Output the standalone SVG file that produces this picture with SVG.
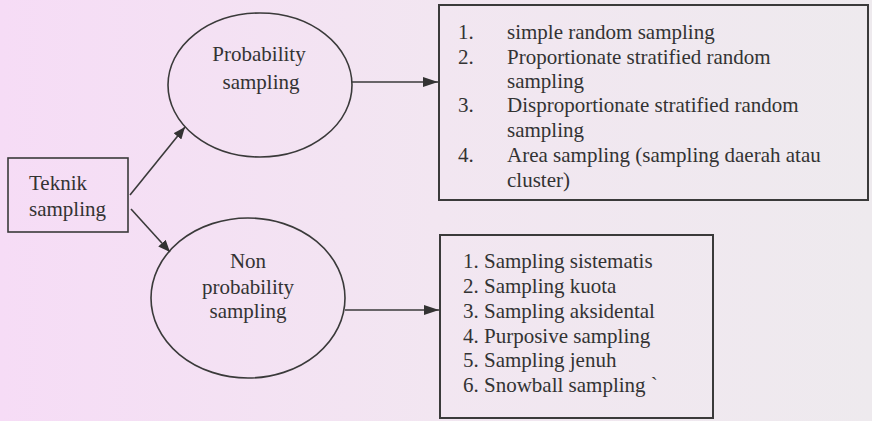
<svg xmlns="http://www.w3.org/2000/svg" width="872" height="421" viewBox="0 0 872 421">
<defs>
<linearGradient id="bg" x1="0" y1="0" x2="1" y2="0">
<stop offset="0" stop-color="#f6dcf6"/>
<stop offset="0.5" stop-color="#f2e6f1"/>
<stop offset="1" stop-color="#eeeaee"/>
</linearGradient>
<marker id="arr" viewBox="0 0 12 10" refX="12" refY="5" markerWidth="12" markerHeight="10" markerUnits="userSpaceOnUse" orient="auto">
<path d="M0,0 L12,5 L0,10 z" fill="#333"/>
</marker>
<marker id="arrL" viewBox="0 0 15 10" refX="15" refY="5" markerWidth="15" markerHeight="10" markerUnits="userSpaceOnUse" orient="auto">
<path d="M0,0 L15,5 L0,10 z" fill="#333"/>
</marker>
</defs>
<style>
.shape{fill:none;stroke:#3a3a3a;stroke-width:1.6}
.box{fill:none;stroke:#3a3a3a;stroke-width:2}
.t{font-family:"Liberation Serif","Times New Roman",serif;font-size:21px;fill:#333}
.c{text-anchor:middle}
.conn{stroke:#3a3a3a;stroke-width:1.6;fill:none}
</style>
<rect width="872" height="421" fill="url(#bg)"/>
<g id="teknik">
<rect class="shape" x="8" y="158" width="120" height="74"/>
<text class="t" x="29" y="190">Teknik</text>
<text class="t" x="29" y="216">sampling</text>
</g>
<g id="probability">
<ellipse class="shape" cx="260" cy="85" rx="92" ry="72"/>
<text class="t c" x="259" y="61">Probability</text>
<text class="t c" x="261" y="89">sampling</text>
</g>
<g id="nonprobability">
<ellipse class="shape" cx="248" cy="298" rx="97" ry="80"/>
<text class="t c" x="248" y="268">Non</text>
<text class="t c" x="248" y="294">probability</text>
<text class="t c" x="248" y="318">sampling</text>
</g>
<g id="prob-list">
<rect class="box" x="439" y="5" width="429" height="195"/>
<text class="t" x="458" y="39">1.</text><text class="t" x="507" y="39">simple random sampling</text>
<text class="t" x="458" y="64">2.</text><text class="t" x="507" y="64">Proportionate stratified random</text>
<text class="t" x="507" y="88">sampling</text>
<text class="t" x="458" y="112">3.</text><text class="t" x="507" y="112">Disproportionate stratified random</text>
<text class="t" x="507" y="137">sampling</text>
<text class="t" x="458" y="162">4.</text><text class="t" x="507" y="162">Area sampling (sampling daerah atau</text>
<text class="t" x="507" y="187">cluster)</text>
</g>
<g id="nonprob-list">
<rect class="box" x="440" y="235" width="273" height="183"/>
<text class="t" x="463" y="268">1. Sampling sistematis</text>
<text class="t" x="463" y="293">2. Sampling kuota</text>
<text class="t" x="463" y="318">3. Sampling aksidental</text>
<text class="t" x="463" y="343">4. Purposive sampling</text>
<text class="t" x="463" y="367">5. Sampling jenuh</text>
<text class="t" x="463" y="392">6. Snowball sampling `</text>
</g>
<g id="connectors">
<line class="conn" x1="130" y1="195" x2="185" y2="127" marker-end="url(#arr)"/>
<line class="conn" x1="131" y1="209" x2="170" y2="252" marker-end="url(#arr)"/>
<line class="conn" x1="352" y1="82" x2="438" y2="82" marker-end="url(#arrL)"/>
<line class="conn" x1="345" y1="310" x2="439" y2="310" marker-end="url(#arrL)"/>
</g>
</svg>
